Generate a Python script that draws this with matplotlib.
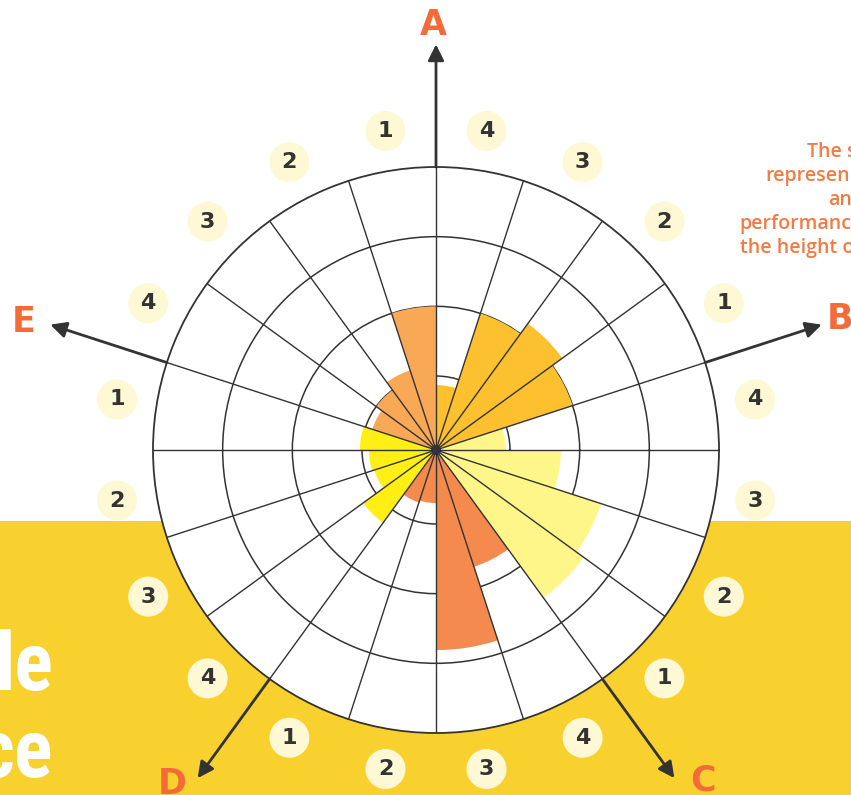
import numpy as np
import matplotlib
matplotlib.use("Agg")
import matplotlib.pyplot as plt
from matplotlib import font_manager
from matplotlib.patches import Rectangle

# five directions, each split into four sub-segments numbered 1..4 (counter-clockwise from the axis)
groups = ['A', 'B', 'C', 'D', 'E']
axis_deg = [90, 18, -54, -126, 162]
sub_labels = ['1', '2', '3', '4']

values_A = [2.0, 1.14, 1.0, 0.9]
values_B = [2.0, 2.18, 2.0, 0.87]
values_C = [2.56, 2.43, 1.73, 0.94]
values_D = [0.73, 0.70, 2.81, 1.70]
values_E = [1.03, 0.90, 0.87, 1.23]
group_values = [values_A, values_B, values_C, values_D, values_E]
group_colors = ['#F9A955', '#FDC02F', '#FFF68A', '#F58A4F', '#FFEF15']

ring_ticks = [1, 2, 3]
r_max = 4

note_lines = ['The s', 'represen', 'an', 'performanc', 'the height o']
note_x = [807, 765, 828, 739, 740]

side_words = ['le', 'ce']

ORANGE = '#F26B38'
DARK = '#333333'
CREAM = '#FEF8D4'
BAND = '#F9D12E'

W, H = 851, 795
fig = plt.figure(figsize=(W / 100, H / 100), dpi=100, facecolor='white')

fig.patches.append(Rectangle((0, 0), 1, (H - 521) / H, transform=fig.transFigure,
                             facecolor=BAND, edgecolor='none', zorder=-1))

available = {f.name for f in font_manager.fontManager.ttflist}
narrow = 'DejaVu Sans'
for name in ['Liberation Sans Narrow', 'DejaVu Sans Condensed', 'Roboto Condensed']:
    if name in available:
        narrow = name
        break

cx, cy, R = 436, 450, 283
ax = fig.add_axes([(cx - R) / W, (H - cy - R) / H, 2 * R / W, 2 * R / H], projection='polar')
ax.set_facecolor('white')
ax.set_ylim(0, r_max)
r0 = -0.062
ax.set_rorigin(r0)

step = np.deg2rad(18)
theta = []
vals = []
cols = []
for a, v, c in zip(axis_deg, group_values, group_colors):
    for i in range(4):
        theta.append(np.deg2rad(a + 9 + 18 * i))
        vals.append(v[i])
        cols.append(c)
theta = np.array(theta)

ax.bar(theta, vals, width=step, color=cols, edgecolor='none', zorder=2)

ax.set_xticks(np.arange(20) * step)
ax.set_xticklabels([])
ax.xaxis.grid(False)
ax.set_yticks(ring_ticks)
ax.set_yticklabels([])
ax.yaxis.grid(True, color=DARK, linewidth=1.1)
ax.set_axisbelow(True)
ax.tick_params(length=0)
ax.spines['polar'].set_color(DARK)
ax.spines['polar'].set_linewidth(1.3)

# segment boundaries drawn above the bars
ax.vlines(np.arange(20) * step, 0, r_max, color=DARK, linewidth=1.0, zorder=3)
ax.scatter([0], [r0], s=45, color=DARK, edgecolor='none', clip_on=False, zorder=3)

r_num = 4.574
ax.scatter(theta, [r_num] * len(theta), s=830, color=CREAM, edgecolor='none',
           clip_on=False, zorder=4)
for t, lab in zip(theta, sub_labels * 5):
    ax.text(t, r_num, lab, ha='center', va='center', fontsize=16, fontweight='bold',
            color=DARK, clip_on=False, zorder=5)

# letter placement nudges (degrees) so C/D sit a little higher, as in the original
nudge = {'A': 0.4, 'B': 0.0, 'C': 2.9, 'D': -2.3, 'E': 0.8}
for g, a in zip(groups, axis_deg):
    t = np.deg2rad(a)
    ax.annotate('', xy=(t, 5.76), xytext=(t, r_max), annotation_clip=False,
                arrowprops=dict(arrowstyle='-|>', color=DARK, lw=2, mutation_scale=24,
                                shrinkA=0, shrinkB=0))
    r_lab = 6.13 if g == 'E' else 6.04
    ax.text(np.deg2rad(a + nudge[g]), r_lab, g, ha='center', va='center', fontsize=25,
            fontweight='bold', color=ORANGE, clip_on=False)

for k, (line, x) in enumerate(zip(note_lines, note_x)):
    fig.text(x / W, (H - 157 - 24 * k) / H, line, ha='left', va='baseline',
             fontsize=14, fontweight='semibold', color='#F47A44', family='Open Sans')

fig.text(53 / W, (H - 690) / H, side_words[0], ha='right', va='baseline',
         fontsize=58, fontweight='bold', color='white', family=narrow)
fig.text(53 / W, (H - 777) / H, side_words[1], ha='right', va='baseline',
         fontsize=58, fontweight='bold', color='white', family=narrow)

fig.savefig('out.png', dpi=100, facecolor='white')
